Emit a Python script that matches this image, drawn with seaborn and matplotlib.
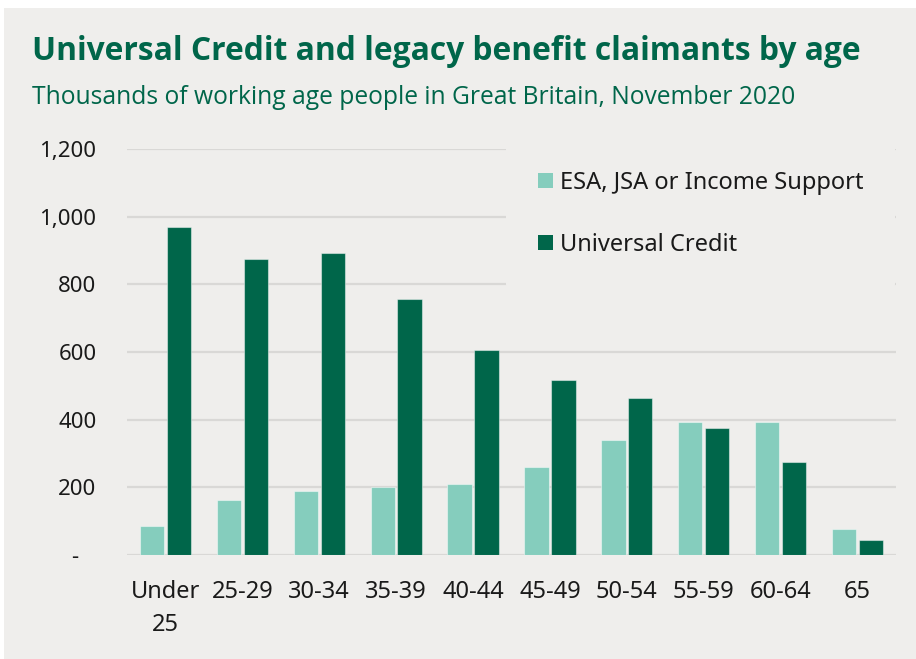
import matplotlib
matplotlib.use("Agg")
import matplotlib.pyplot as plt
import matplotlib.ticker as mticker
from matplotlib.patches import Rectangle
import seaborn as sns
import pandas as pd

categories = ["Under\n25", "25-29", "30-34", "35-39", "40-44", "45-49", "50-54", "55-59", "60-64", "65"]
legacy = [87, 163, 190, 200, 210, 260, 341, 393, 393, 76]
universal = [970, 875, 893, 757, 605, 516, 463, 374, 274, 43]
series_names = ["ESA, JSA or Income Support", "Universal Credit"]
yticks = [0, 200, 400, 600, 800, 1000, 1200]

title = "Universal Credit and legacy benefit claimants by age"
subtitle = "Thousands of working age people in Great Britain, November 2020"

BG = "#efeeec"
LIGHT = "#85cdbd"
DARK = "#00664a"

df = pd.DataFrame({
    "age": categories * 2,
    "value": legacy + universal,
    "series": [series_names[0]] * len(categories) + [series_names[1]] * len(categories),
})

sns.set_theme(style="white")
plt.rcParams["font.family"] = ["Noto Sans", "DejaVu Sans"]

fig = plt.figure(figsize=(9.16, 6.59), dpi=100)
fig.patch.set_facecolor("white")
fig.patches.append(Rectangle((4 / 916, 0), 1, 1 - 8 / 659, transform=fig.transFigure,
                             facecolor=BG, edgecolor="none", zorder=-10))

ax = fig.add_axes([127 / 916, 1 - 555 / 659, (896 - 127) / 916, (555 - 149) / 659])
ax.set_facecolor(BG)
ax.patch.set_alpha(0)

sns.barplot(data=df, x="age", y="value", hue="series", order=categories,
            hue_order=series_names, palette=[LIGHT, DARK], saturation=1,
            width=0.7, gap=0.1, edgecolor=(1, 1, 1, 0.45), linewidth=0.8, ax=ax, zorder=3)

ax.set_xlim(-0.5, 9.5)
ax.set_ylim(0, 1200)
ax.set_yticks(yticks)
ax.yaxis.set_major_formatter(mticker.FuncFormatter(lambda v, p: "-   " if v == 0 else f"{int(v):,}"))
ax.grid(axis="y", color="#d9d8d6", linewidth=1.6, zorder=0)
ax.grid(axis="x", visible=False)
ax.set_axisbelow(True)
for s in ax.spines.values():
    s.set_visible(False)
ax.set_xlabel("")
ax.set_ylabel("")
ax.tick_params(axis="y", length=0, pad=22, labelsize=16, labelcolor="#1a1a1a")
ax.tick_params(axis="x", length=0, pad=18, labelsize=17, labelcolor="#1a1a1a")
for lbl in ax.get_xticklabels():
    lbl.set_linespacing(1.5)

handles, labels = ax.get_legend_handles_labels()
leg = ax.legend(handles, labels, loc="upper left",
                bbox_to_anchor=(506 / 916, 1 - 139 / 659), bbox_transform=fig.transFigure,
                frameon=True, facecolor=BG, edgecolor="none", framealpha=1,
                fontsize=17, handlelength=0.62, handleheight=0.62, handletextpad=0.3,
                labelspacing=1.62, borderpad=1.35, borderaxespad=0)
for h in leg.legend_handles:
    h.set_edgecolor("none")
for t in leg.get_texts():
    t.set_color("#1a1a1a")
leg.set_zorder(5)

fig.text(32 / 916, 1 - 52 / 659, title, fontsize=22.9, fontweight="bold", color=DARK,
         va="center", ha="left", family=["Open Sans", "DejaVu Sans"])
fig.text(32 / 916, 1 - 97 / 659, subtitle, fontsize=17.7, color=DARK,
         va="center", ha="left", family=["Open Sans", "DejaVu Sans"])

fig.savefig("out.png", dpi=100, facecolor=fig.get_facecolor())
